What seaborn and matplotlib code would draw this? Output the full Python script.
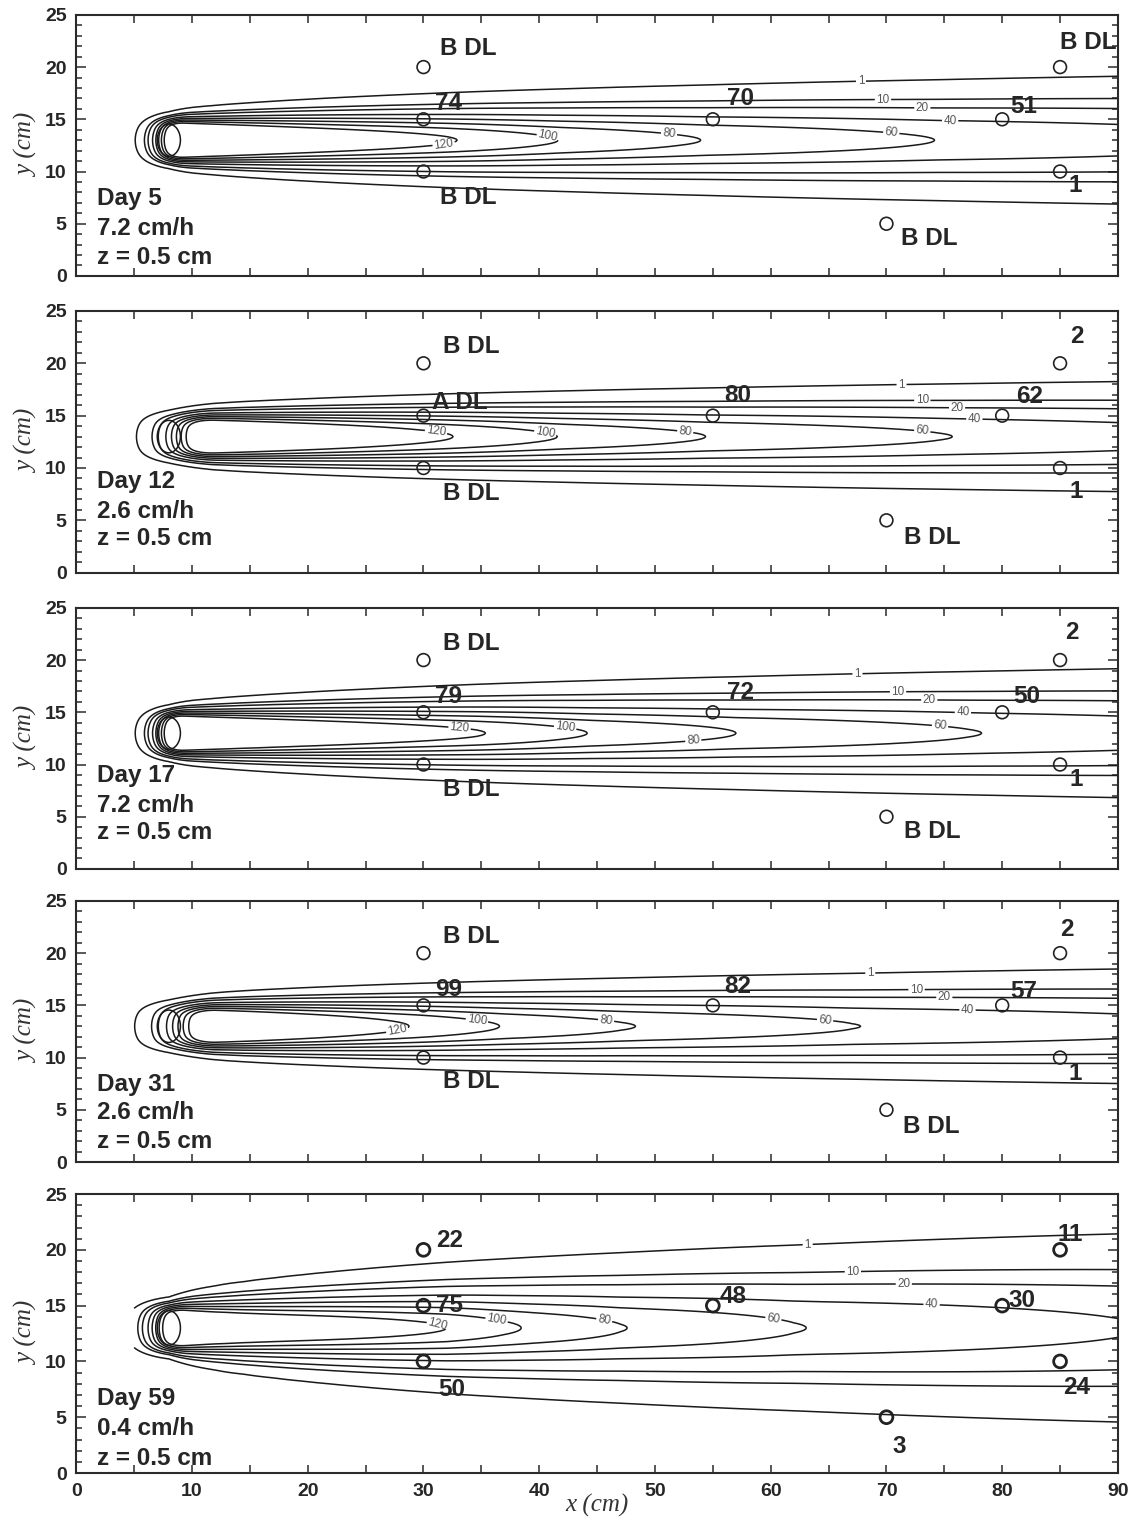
import math
import numpy as np
import pandas as pd
import matplotlib
matplotlib.use("Agg")
import matplotlib.pyplot as plt
import seaborn as sns
from matplotlib.patches import Ellipse
from matplotlib.ticker import MultipleLocator

# ---------------------------------------------------------------- data
days = [5, 12, 17, 31, 59]
flow_rates = ["7.2", "2.6", "7.2", "2.6", "0.4"]          # cm/h
depth_text = "z = 0.5 cm"

# sampling ports (cm)
port_x = [30, 30, 30, 55, 70, 80, 85, 85]
port_y = [20, 15, 10, 15, 5, 15, 20, 10]

# concentrations reported at the ports
port_text_day5 = ["B DL", "74", "B DL", "70", "B DL", "51", "B DL", "1"]
port_text_day12 = ["B DL", "A DL", "B DL", "80", "B DL", "62", "2", "1"]
port_text_day17 = ["B DL", "79", "B DL", "72", "B DL", "50", "2", "1"]
port_text_day31 = ["B DL", "99", "B DL", "82", "B DL", "57", "2", "1"]
port_text_day59 = ["22", "75", "50", "48", "3", "30", "11", "24"]
port_texts = [port_text_day5, port_text_day12, port_text_day17,
              port_text_day31, port_text_day59]

# simulated plume: contour levels and where each high level closes on the axis
contour_levels = [1, 10, 20, 40, 60, 80, 100, 120]
tip_levels = [120, 100, 80, 60]
tip_x_day5 = [33.0, 41.5, 53.7, 74.0]
tip_x_day12 = [32.6, 41.4, 54.3, 75.5]
tip_x_day17 = [35.5, 44.0, 57.0, 78.0]
tip_x_day31 = [28.8, 36.4, 48.0, 67.5]
tip_x_day59 = [32.0, 38.2, 47.4, 62.7]
tip_x = [tip_x_day5, tip_x_day12, tip_x_day17, tip_x_day31, tip_x_day59]
centre_at_90 = [50.0, 50.0, 52.0, 47.0, 41.5]
source_conc = 170.0
transverse_spread = [0.0213, 0.0138, 0.0215, 0.0160, 0.050]
upstream_edge = [8.98, 11.79, 8.98, 12.18, 9.2]
upstream_width = [2.07, 3.51, 2.07, 3.8, 2.6]

# source well
SRC_X, SRC_Y = 8.0, 13.0
SRC_W, SRC_H = 2.0, 3.1
HALF_W = 1.9
SIGMA0 = 0.28

# ---------------------------------------------------------------- layout
boxes = [(0.0673, 0.8181, 0.9194, 0.1721),
         (0.0673, 0.6225, 0.9194, 0.1725),
         (0.0673, 0.4272, 0.9194, 0.1721),
         (0.0673, 0.2340, 0.9194, 0.1721),
         (0.0673, 0.0290, 0.9194, 0.1839)]

label_pos = [
    [(31.4, 21.8), (31.0, 16.5), (31.4, 7.5), (56.2, 17.0), (71.3, 3.6), (80.7, 16.2), (85.0, 22.4), (85.7, 8.7)],
    [(31.7, 21.6), (30.7, 16.3), (31.7, 7.6), (56.0, 16.9), (71.5, 3.4), (81.2, 16.8), (85.9, 22.6), (85.8, 7.8)],
    [(31.7, 21.6), (31.0, 16.5), (31.7, 7.6), (56.2, 16.9), (71.5, 3.6), (81.0, 16.5), (85.4, 22.6), (85.8, 8.6)],
    [(31.7, 21.6), (31.0, 16.5), (31.7, 7.7), (56.0, 16.8), (71.4, 3.4), (80.7, 16.3), (85.0, 22.3), (85.7, 8.5)],
    [(31.1, 20.8), (31.1, 15.0), (31.3, 7.5), (55.6, 15.8), (70.5, 2.4), (80.5, 15.5), (84.8, 21.4), (85.3, 7.7)],
]

clabel_pos = [
    [(67.8, 18.6), (69.7, 16.7), (73.1, 16.0), (75.5, 14.9), (70.4, 13.4), (51.2, 13.4), (40.7, 13.1), (31.7, 13.0)],
    [(71.3, 18.5), (73.1, 16.8), (76.1, 15.7), (77.6, 14.9), (73.1, 13.6), (52.6, 13.3), (40.5, 13.2), (31.1, 13.6)],
    [(67.5, 18.5), (71.0, 16.9), (73.7, 16.1), (76.6, 14.6), (74.6, 13.3), (53.3, 12.5), (42.2, 13.1), (33.1, 13.3)],
    [(68.6, 18.4), (72.6, 16.5), (75.0, 15.9), (77.0, 14.5), (64.7, 13.6), (45.8, 13.8), (34.6, 13.4), (27.7, 12.8)],
    [(63.2, 20.4), (67.1, 17.9), (71.5, 16.8), (73.9, 15.0), (60.2, 13.6), (45.6, 13.6), (36.3, 13.6), (31.2, 13.1)],
]

info_y = [(7.4, 4.5, 1.8), (8.7, 5.8, 3.3), (8.9, 6.1, 3.5), (7.4, 4.7, 2.0), (6.7, 4.0, 1.3)]

# ---------------------------------------------------------------- style
sns.set_theme(style="ticks")
plt.rcParams["font.family"] = ["Liberation Sans", "DejaVu Sans"]
plt.rcParams["axes.edgecolor"] = "#2b2b2b"
plt.rcParams["axes.linewidth"] = 1.5
INK = "#262626"

erf = np.vectorize(math.erf)

# model grid: fine near the source, coarse further downstream
xg = np.concatenate([np.arange(5.0, 12.0, 0.1), np.arange(12.0, 90.0, 2.5), [90.0]])
yg = np.arange(0.0, 25.001, 0.1)


def plume(tips, c90, alpha, x_up, w):
    X, Y = np.meshgrid(xg, yg)
    dx = np.clip(X - SRC_X, 0.0, None)
    dy = np.abs(Y - SRC_Y)
    sig = np.sqrt(SIGMA0 ** 2 + alpha * dx)
    fy = 0.5 * (erf((dy + HALF_W) / (2 * sig)) - erf((dy - HALF_W) / (2 * sig)))
    fy0 = erf(HALF_W / (2 * sig))
    cc = np.interp(X, [SRC_X] + list(tips) + [90.0],
                   [source_conc] + tip_levels + [c90])
    lag = np.clip(x_up + 0.6 * (dy / HALF_W) ** 2 - X, 0.0, None)
    gx = np.exp(-(lag / w) ** 2.6)
    return X, Y, cc * fy / fy0 * gx


fig = plt.figure(figsize=(11.33, 15.17), dpi=100)

for i in range(5):
    ax = fig.add_axes(boxes[i])
    X, Y, C = plume(tip_x[i], centre_at_90[i], transverse_spread[i],
                    upstream_edge[i], upstream_width[i])
    cs = ax.contour(X, Y, C, levels=contour_levels, colors="#1a1a1a",
                    linewidths=1.1)
    ax.clabel(cs, levels=contour_levels, manual=clabel_pos[i], inline=True,
              inline_spacing=2, fontsize=8.5, fmt="%d", colors="#555555")

    ax.add_patch(Ellipse((SRC_X, SRC_Y), SRC_W, SRC_H, fill=False,
                         edgecolor="#1a1a1a", lw=1.1, zorder=3))

    ports = pd.DataFrame({"x": port_x, "y": port_y})
    sns.scatterplot(data=ports, x="x", y="y", ax=ax, marker="o", s=85,
                    color="white", edgecolor="#222222",
                    linewidth=2.0 if i == 4 else 1.2, zorder=5, legend=False)
    ax.collections[-1].set_facecolor("none")

    for (lx, ly), txt in zip(label_pos[i], port_texts[i]):
        ax.text(lx, ly, txt, fontsize=17.5, fontweight="bold", color=INK,
                ha="left", va="center")

    y1, y2, y3 = info_y[i]
    ax.text(1.8, y1, f"Day {days[i]}", fontsize=17.5, fontweight="bold",
            color=INK, ha="left", va="center")
    ax.text(1.8, y2, f"{flow_rates[i]} cm/h", fontsize=17.5, fontweight="bold",
            color=INK, ha="left", va="center")
    ax.text(1.8, y3, depth_text, fontsize=17.5, fontweight="bold",
            color=INK, ha="left", va="center")

    ax.set_xlim(0, 90)
    ax.set_ylim(0, 25)
    ax.xaxis.set_major_locator(MultipleLocator(10))
    ax.xaxis.set_minor_locator(MultipleLocator(5))
    ax.yaxis.set_major_locator(MultipleLocator(5))
    ax.yaxis.set_minor_locator(MultipleLocator(1))
    ax.tick_params(axis="both", which="both", direction="in", top=True,
                   right=True, color="#2b2b2b", width=1.1)
    ax.tick_params(axis="x", which="both", length=6)
    ax.tick_params(axis="y", which="major", length=7)
    ax.tick_params(axis="y", which="minor", length=4)
    ax.tick_params(axis="both", which="major", labelsize=14,
                   labelcolor=INK, pad=7)
    for lab in ax.get_yticklabels():
        lab.set_fontweight("bold")
    ax.set_ylabel("y (cm)", fontsize=18, family="Liberation Serif",
                  style="italic", color="#333333", labelpad=4)
    if i < 4:
        ax.tick_params(axis="x", labelbottom=False)
        ax.set_xlabel("")
    else:
        for lab in ax.get_xticklabels():
            lab.set_fontweight("bold")
        ax.set_xlabel("x (cm)", fontsize=18, family="Liberation Serif",
                      style="italic", color="#333333", labelpad=-4)
    for sp in ax.spines.values():
        sp.set_visible(True)

fig.savefig("out.png", dpi=100)
